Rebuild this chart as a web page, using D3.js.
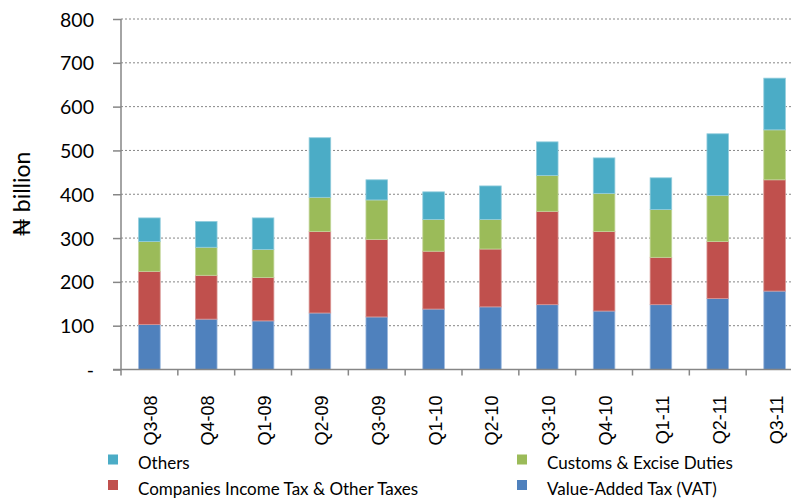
<html>
<head>
<meta charset="utf-8">
<style>
body { margin: 0; background: #fff; }
text { font-family: Lato, "Open Sans", sans-serif; fill: #000; }
.grid line { stroke: #868686; stroke-dasharray: 2,2; stroke-width: 1; }
.axis path, .axis line { stroke: #868686; stroke-width: 1.5; }
</style>
<script src="https://cdn.jsdelivr.net/npm/d3@7"></script>
</head>
<body>
<svg width="791" height="499"></svg>
<script>

var quarters = ["Q3-08","Q4-08","Q1-09","Q2-09","Q3-09","Q1-10","Q2-10","Q3-10","Q4-10","Q1-11","Q2-11","Q3-11"];
var vat = [102.5,115,111,129,120,138,143,148,133.5,148,162,179];
var cit = [121.5,100,99,186,177,132,132,213,181.5,108,130,254];
var customs = [68,64,64,78,90,72.5,67.5,82,87,109,105,114];
var others = [54,59,72,136,46,63,76.5,76.6,81,72.5,141,118];
var yTicks = [0,100,200,300,400,500,600,700,800];

var seriesNames = ["Value-Added Tax (VAT)","Companies Income Tax & Other Taxes","Customs & Excise Duties","Others"];
var colors = ["#4F81BD","#C0504D","#9BBB59","#4BACC6"];
var borders = ["#9DB9DE","#D99694","#C3D69B","#93CDDD"];

var svg = d3.select("svg");
var plotL = 121, plotR = 803, plotT = 19, plotB = 369.5;

var x = d3.scaleBand().domain(quarters).range([plotL, plotR]).paddingInner(0.62).paddingOuter(0.31);
var y = d3.scaleLinear().domain([0, 800]).range([plotB, plotT]);

var table = quarters.map(function(q, i) {
  return { q: q, s0: vat[i], s1: cit[i], s2: customs[i], s3: others[i] };
});
var stack = d3.stack().keys(["s0","s1","s2","s3"])(table);

// gridlines
svg.append("g").attr("class", "grid")
  .selectAll("line").data(yTicks.slice(1))
  .enter().append("line")
    .attr("x1", plotL).attr("x2", 791)
    .attr("y1", function(d) { return y(d); })
    .attr("y2", function(d) { return y(d); });

// bars
svg.append("g").selectAll("g").data(stack)
  .enter().append("g")
    .attr("fill", function(d, i) { return colors[i]; })
    .attr("stroke", function(d, i) { return borders[i]; })
  .selectAll("rect").data(function(d) { return d; })
  .enter().append("rect")
    .attr("x", function(d) { return x(d.data.q); })
    .attr("width", x.bandwidth())
    .attr("y", function(d) { return y(d[1]); })
    .attr("height", function(d) { return y(d[0]) - y(d[1]); })
    .attr("stroke-width", 0.8);

// y axis
var yAxis = svg.append("g").attr("class", "axis")
  .attr("transform", "translate(" + plotL + ",0)")
  .call(d3.axisLeft(y).tickValues(yTicks).tickSize(8).tickPadding(19)
    .tickFormat(function(d) { return d === 0 ? "-" : d; }));
yAxis.select(".domain").attr("d", "M0," + plotT + "V" + plotB);
yAxis.selectAll("text").style("font-size", "19.5px").attr("dy", "0.36em");

// x axis
var xAxis = svg.append("g").attr("class", "axis");
xAxis.append("line").attr("x1", plotL - 8).attr("x2", 791).attr("y1", plotB).attr("y2", plotB);
xAxis.selectAll(".tk").data(d3.range(quarters.length + 1))
  .enter().append("line").attr("class", "tk")
    .attr("x1", function(i) { return plotL + i * (plotR - plotL) / quarters.length; })
    .attr("x2", function(i) { return plotL + i * (plotR - plotL) / quarters.length; })
    .attr("y1", plotB).attr("y2", plotB + 6);
xAxis.selectAll("text").data(quarters)
  .enter().append("text")
    .attr("transform", function(d) {
      return "translate(" + (x(d) + x.bandwidth() / 2 + 1.5) + "," + (plotB + 26) + ") rotate(-90)";
    })
    .attr("text-anchor", "end")
    .attr("dy", "0.36em")
    .style("font-family", "'Liberation Sans', Arial, sans-serif")
    .style("font-size", "18px")
    .text(function(d) { return d; });

// y title
svg.append("text")
  .attr("transform", "translate(22,194) rotate(-90)")
  .attr("text-anchor", "middle")
  .attr("dy", "0.36em")
  .style("font-size", "23px")
  .text("\u20A6 billion");

// legend
var legendItems = [
  { i: 3, x: 108, y: 469 },
  { i: 2, x: 517, y: 469 },
  { i: 1, x: 108, y: 494.5 },
  { i: 0, x: 517, y: 494.5 }
];
var lg = svg.append("g").selectAll("g").data(legendItems)
  .enter().append("g")
    .attr("transform", function(d) { return "translate(" + d.x + "," + d.y + ")"; });
lg.append("rect").attr("x", 0).attr("y", -14.5).attr("width", 10).attr("height", 10)
  .attr("fill", function(d) { return colors[d.i]; });
lg.append("text").attr("x", 30)
  .style("font-size", "17px")
  .text(function(d) { return seriesNames[d.i]; });

</script>
</body>
</html>
